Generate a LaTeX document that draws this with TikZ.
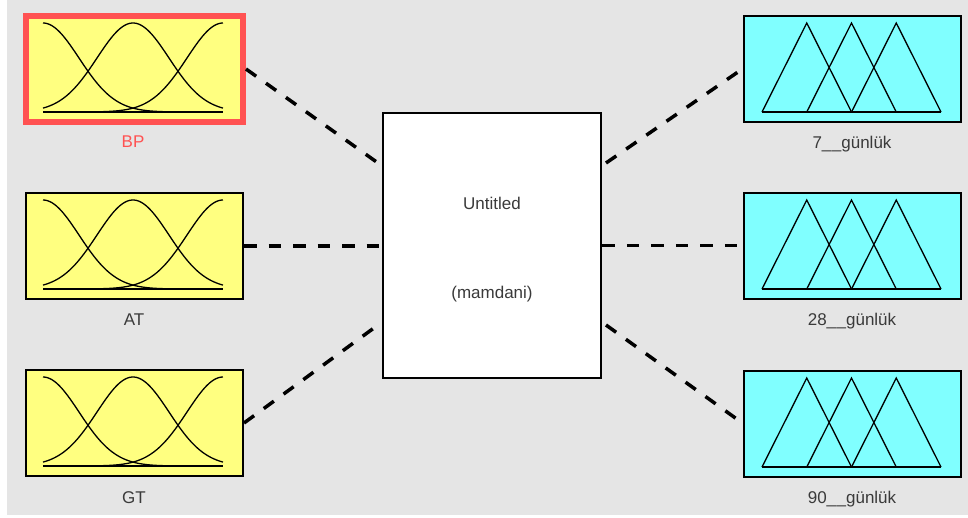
\documentclass[tikz,border=0pt]{standalone}
\usepackage{fontspec}
\setmainfont{Liberation Sans}

\definecolor{panel}{HTML}{E5E5E5}
\definecolor{inyellow}{HTML}{FFFF80}
\definecolor{outcyan}{HTML}{80FFFF}
\definecolor{selred}{HTML}{FF5252}
\definecolor{labelgray}{HTML}{3A3A3A}

\tikzset{
  varbox/.style={draw=black, line width=2pt, minimum width=217pt,
    minimum height=106pt, inner sep=0pt},
  inbox/.style={varbox, fill=inyellow},
  outbox/.style={varbox, fill=outcyan},
  selected/.style={draw=selred, line width=6pt},
  fisbox/.style={draw=black, line width=2.5pt, fill=white,
    minimum width=218pt, minimum height=265pt, inner sep=0pt},
  txt/.style={font=\fontsize{17}{20}\selectfont, text=labelgray,
    inner sep=0pt, anchor=base},
  sellabel/.style={txt, text=selred},
  link/.style={line width=3.5pt, dash pattern=on 12.5pt off 12pt},
  mf/.style={line width=1.3pt, black, line join=round},
}

% three gaussian membership functions inside an input box
\newcommand\gaussset[1]{%
  \begin{scope}[shift={(#1.center)}]
    \foreach \c in {-1,0,1}
      \draw[mf] plot[domain=-1:1, samples=80, smooth]
        ({90*\x-1.5}, {43-89*exp(-((\x-(\c))^2)/0.32)});
    \draw[mf] (-91.5,43) -- (88.5,43);
  \end{scope}}

% three triangular membership functions inside an output box
\newcommand\triset[1]{%
  \begin{scope}[shift={(#1.center)}]
    \foreach \k in {0,1,2}
      \draw[mf, line join=miter]
        ({-90.5+44.75*\k},43.5) -- ({-45.75+44.75*\k},-45.5)
        -- ({-1+44.75*\k},43.5);
    \draw[mf] (-90.5,43.5) -- (88.5,43.5);
  \end{scope}}

\begin{document}
\begin{tikzpicture}[x=1pt, y=-1pt]
  \useasboundingbox (0,0) rectangle (968,517);
  \fill[white] (0,0) rectangle (968,517);
  \fill[panel] (7,0) rectangle (968,515);

  % inputs
  \node[inbox, selected] (bp) at (134.5,69) {};
  \node[inbox] (at) at (134.5,246) {};
  \node[inbox] (gt) at (134.5,423) {};
  \gaussset{bp}
  \gaussset{at}
  \gaussset{gt}
  \node[sellabel] (bplbl) at (133,147) {BP};
  \node[txt] (atlbl) at (134,325.5) {AT};
  \node[txt] (gtlbl) at (134,503) {GT};

  % outputs
  \node[outbox] (o7) at (852.5,68.5) {};
  \node[outbox] (o28) at (852.5,245.5) {};
  \node[outbox] (o90) at (852.5,423.5) {};
  \triset{o7}
  \triset{o28}
  \triset{o90}
  \node[txt] (o7lbl) at (852,148) {7\_\kern0.5pt\_günlük};
  \node[txt] (o28lbl) at (852,325.5) {28\_\kern0.5pt\_günlük};
  \node[txt] (o90lbl) at (852,503) {90\_\kern0.5pt\_günlük};

  % inference system
  \node[fisbox] (fis) at (492,245.5) {};
  \node[txt] (fisname) at (492,209) {Untitled};
  \node[txt] (fistype) at (492,298) {(mamdani)};

  % ports on the inference system
  \coordinate (in1) at (378,163);
  \coordinate (in3) at (378,325);
  \coordinate (out1) at (606,163);
  \coordinate (out3) at (606,325);

  % connectors
  \draw[link] (bp.east) -- (in1);
  \draw[link] (at.east) -- (at.east -| fis.west);
  \draw[link] (gt.east) -- (in3);
  \draw[link] (out1) -- (o7.west);
  \draw[link] (fis.east |- o28.west) -- (o28.west);
  \draw[link] (out3) -- (o90.west);
\end{tikzpicture}
\end{document}
